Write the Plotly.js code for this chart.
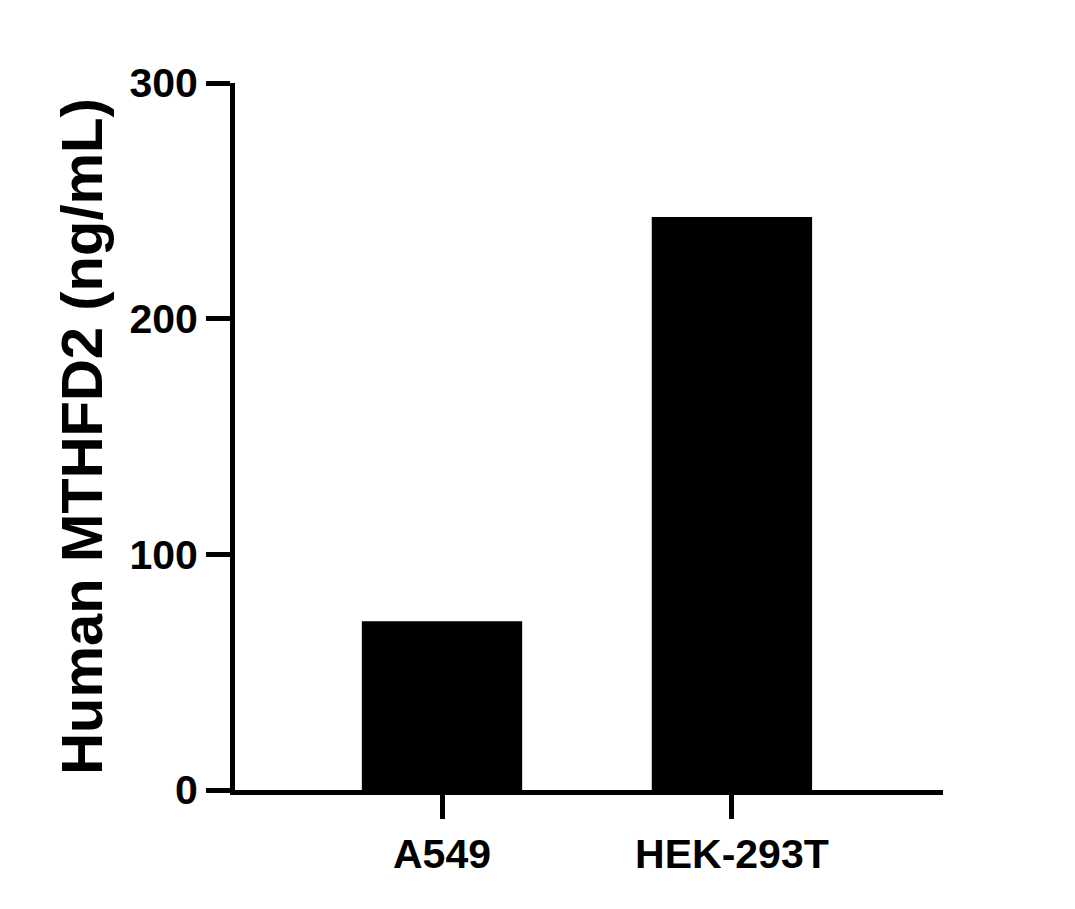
<!DOCTYPE html>
<html>
<head>
<meta charset="utf-8">
<script src="https://cdn.plot.ly/plotly-3.0.1.min.js"></script>
<style>
  html, body { margin: 0; padding: 0; background: #fff; }
  #chart { width: 1075px; height: 909px; }
</style>
</head>
<body>
<div id="chart"></div>
<script>
// cell lines and measured concentration
var cellLines = ['A549', 'HEK-293T'];
var mthfd2 = [71.6, 243.1];
var yTicks = [0, 100, 200, 300];

var fontFam = 'Arial, "Liberation Sans", sans-serif';

var trace = {
  x: cellLines,
  y: mthfd2,
  type: 'bar',
  width: 0.553,
  marker: {color: '#000000', line: {width: 0}},
  hoverinfo: 'x+y'
};

var layout = {
  width: 1075,
  height: 909,
  margin: {l: 235, r: 132, t: 83, b: 119},
  paper_bgcolor: '#ffffff',
  plot_bgcolor: '#ffffff',
  showlegend: false,
  font: {family: fontFam, color: '#000000'},
  xaxis: {
    range: [-0.714, 1.728],
    showline: true,
    linecolor: '#000000',
    linewidth: 5,
    ticks: 'outside',
    ticklen: 24,
    tickwidth: 5,
    tickcolor: '#000000',
    showgrid: false,
    zeroline: false,
    fixedrange: true,
    tickfont: {family: fontFam, size: 41, weight: 'bold', color: '#000000'},
    automargin: false
  },
  yaxis: {
    range: [0, 300],
    tickvals: yTicks,
    ticktext: yTicks.map(String),
    showline: true,
    linecolor: '#000000',
    linewidth: 5,
    ticks: 'outside',
    ticklen: 24,
    tickwidth: 5,
    tickcolor: '#000000',
    showgrid: false,
    zeroline: false,
    fixedrange: true,
    tickfont: {family: fontFam, size: 41, weight: 'bold', color: '#000000'},
    title: {
      text: 'Human MTHFD2 (ng/mL)',
      font: {family: fontFam, size: 58, weight: 'bold', color: '#000000'},
      standoff: 10
    },
    automargin: false
  }
};

Plotly.newPlot('chart', [trace], layout, {displayModeBar: false, staticPlot: true});
</script>
</body>
</html>
